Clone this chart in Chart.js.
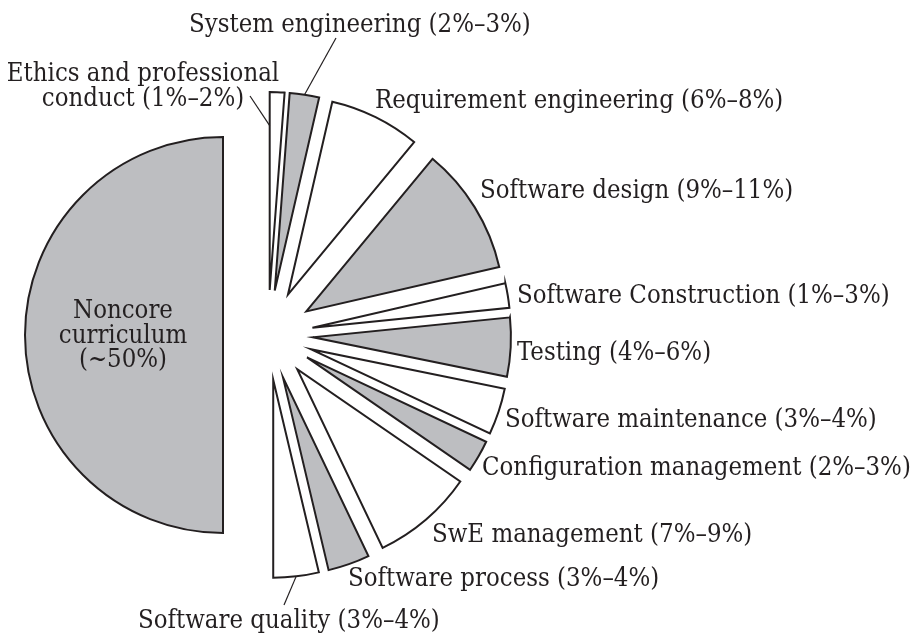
<!DOCTYPE html>
<html lang="en">
<head>
  <meta charset="UTF-8" />
  <title>Software engineering curriculum share</title>
  <style>
    html, body { margin: 0; padding: 0; background: #fff; }
    canvas { display: block; }
  </style>
</head>
<body>

  <canvas id="curriculumPie" width="915" height="634"></canvas>

  <script src="https://cdn.jsdelivr.net/npm/chart.js"></script>

  <script>
    // slices in clockwise order, starting at 12 o'clock
    const categories = [
      'Ethics and professional conduct',
      'System engineering',
      'Requirement engineering',
      'Software design',
      'Software Construction',
      'Testing',
      'Software maintenance',
      'Configuration management',
      'SwE management',
      'Software process',
      'Software quality',
      'Noncore curriculum'
    ];
    const ranges = [
      '1%–2%', '2%–3%', '6%–8%', '9%–11%', '1%–3%', '4%–6%',
      '3%–4%', '2%–3%', '7%–9%', '3%–4%', '3%–4%', '~50%'
    ];
    // share of the circle (%)
    const shares = [1.2, 2.4, 7.4, 10.4, 2.0, 4.8, 3.8, 2.6, 8.3, 3.4, 3.7, 50];

    const ink = '#231f20';
    const grey = '#bdbec1';
    const fills = categories.map((_, i) => (i % 2 === 0 ? '#ffffff' : grey));
    fills[11] = grey;

    // where each caption goes (x = left edge, or centre when align is 'center'; y = first baseline)
    const captionPlacement = [
      { x: 143, y: 81, align: 'center', breaks: [3] },
      { x: 189, y: 32 },
      { x: 375, y: 108 },
      { x: 480, y: 198 },
      { x: 517, y: 303 },
      { x: 517, y: 360 },
      { x: 505, y: 427 },
      { x: 482, y: 475 },
      { x: 432, y: 542 },
      { x: 348, y: 586 },
      { x: 138, y: 628 },
      { x: 123, y: 318, align: 'center', breaks: [1, 1] }
    ];

    // leader lines: slice point (fraction along the slice angle, fraction of radius) to caption end
    const leaders = [
      { index: 0, along: 0, reach: 0.83, x: 250, y: 96 },
      { index: 1, along: 0.5, reach: 1, x: 336, y: 38 },
      { index: 10, along: 0.5, reach: 1, x: 284, y: 605 }
    ];

    // pushes every slice outward along its middle angle
    const explodePlugin = {
      id: 'explode',
      afterDatasetUpdate(chart, args, opts) {
        args.meta.data.forEach(arc => {
          const mid = (arc.startAngle + arc.endAngle) / 2;
          arc.x += Math.cos(mid) * opts.distance;
          arc.y += Math.sin(mid) * opts.distance;
        });
      }
    };

    const captionPlugin = {
      id: 'captions',
      afterDraw(chart, args, opts) {
        const ctx = chart.ctx;
        const arcs = chart.getDatasetMeta(0).data;
        ctx.save();
        ctx.font = opts.font;
        ctx.fillStyle = ink;
        ctx.textBaseline = 'alphabetic';
        categories.forEach((name, i) => {
          const p = captionPlacement[i];
          const words = `${name} (${ranges[i]})`.split(' ');
          const lines = [];
          let k = 0;
          (p.breaks || []).forEach(n => {
            lines.push(words.slice(k, k + n).join(' '));
            k += n;
          });
          lines.push(words.slice(k).join(' '));
          ctx.textAlign = p.align || 'left';
          lines.forEach((t, j) => ctx.fillText(t, p.x, p.y + j * opts.lineHeight));
        });

        ctx.strokeStyle = ink;
        ctx.lineWidth = 1.2;
        leaders.forEach(l => {
          const arc = arcs[l.index];
          const a = arc.startAngle + (arc.endAngle - arc.startAngle) * l.along;
          const r = arc.outerRadius * l.reach;
          ctx.beginPath();
          ctx.moveTo(arc.x + Math.cos(a) * r, arc.y + Math.sin(a) * r);
          ctx.lineTo(l.x, l.y);
          ctx.stroke();
        });
        ctx.restore();
      }
    };

    new Chart(document.getElementById('curriculumPie'), {
      type: 'pie',
      data: {
        labels: categories,
        datasets: [{
          data: shares,
          backgroundColor: fills,
          borderColor: ink,
          borderWidth: 2,
          borderJoinStyle: 'miter',
          hoverOffset: 0
        }]
      },
      options: {
        responsive: false,
        animation: false,
        events: [],
        radius: 198,
        layout: { padding: { left: 0, right: 379, top: 36, bottom: 0 } },
        plugins: {
          legend: { display: false },
          tooltip: { enabled: false },
          explode: { distance: 45 },
          captions: { font: '25.5px "DejaVu Serif Condensed", "DejaVu Serif"', lineHeight: 24.5 }
        }
      },
      plugins: [explodePlugin, captionPlugin]
    });
  </script>
</body>
</html>
